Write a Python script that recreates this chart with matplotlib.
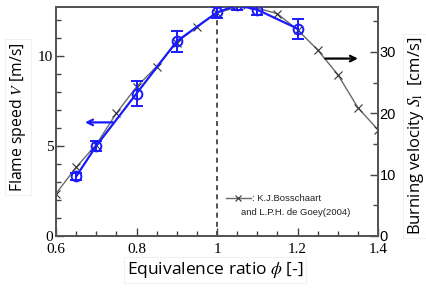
import matplotlib
matplotlib.use("Agg")
import matplotlib.pyplot as plt
from matplotlib.ticker import MultipleLocator, FixedLocator

plt.rcParams['mathtext.fontset'] = 'stix'

# flame speed V (this work), m/s
phi_exp = [0.65, 0.7, 0.8, 0.9, 1.0, 1.05, 1.1, 1.2]
v_exp = [3.3, 5.0, 7.9, 10.8, 12.4, 12.8, 12.55, 11.5]
v_err = [0.22, 0.28, 0.67, 0.58, 0.3, 0.25, 0.28, 0.56]

# burning velocity S_l, K.J.Bosschaart and L.P.H. de Goey (2004), cm/s
phi_ref = [0.6, 0.65, 0.7, 0.75, 0.8, 0.85, 0.9, 0.95, 1.0, 1.075,
           1.15, 1.2, 1.25, 1.3, 1.35, 1.4]
sl_ref = [6.9, 11.2, 14.9, 20.0, 24.3, 27.6, 31.5, 34.1, 36.4, 37.6,
          36.2, 33.6, 30.3, 26.3, 20.9, 17.3]

x_ticks = [0.6, 0.8, 1.0, 1.2, 1.4]
x_ticklabels = ['0.6', '0.8', '1', '1.2', '1.4']

fig = plt.figure(figsize=(4.26, 2.88), dpi=100)
ax = fig.add_axes([0.1315, 0.1806, 0.7559, 0.7951])
ax2 = ax.twinx()

# reference data on right axis
ax2.plot(phi_ref, sl_ref, color='#6a6a6a', lw=1.0, marker='x', ms=6,
         mec='#333333', mew=0.8, zorder=2)
ax2.set_ylim(0, 37.3)

# experiment on left axis, drawn above
ax.set_zorder(ax2.get_zorder() + 1)
ax.patch.set_visible(False)
ax.errorbar(phi_exp, v_exp, yerr=v_err, color='#1a1aff', lw=1.6, marker='o',
            ms=7, mfc='none', mec='#1a1aff', mew=1.4, capsize=4, capthick=1.4,
            elinewidth=1.4, zorder=3)
ax.plot([1.0, 1.0], [0, 12.2], color='#333333', lw=1.2, ls=(0, (3, 2.5)), zorder=1)

ax.set_xlim(0.6, 1.4)
ax.set_ylim(0, 12.7)

# arrows
ax.annotate('', xy=(0.665, 6.3), xytext=(0.748, 6.3),
            arrowprops=dict(arrowstyle='->', color='#1a1aff', lw=1.6))
ax2.annotate('', xy=(1.357, 28.9), xytext=(1.262, 28.9),
             arrowprops=dict(arrowstyle='->', color='black', lw=1.6))

# legend-like note
ax.plot([1.022, 1.085], [2.1, 2.1], color='#6a6a6a', lw=1.0)
ax.plot([1.053], [2.1], marker='x', ms=5, color='#333333', mew=0.8)
ax.text(1.087, 2.1, ': K.J.Bosschaart', fontsize=6.8, family='Liberation Sans',
        va='center', ha='left', color='#222222')
ax.text(1.06, 1.3, 'and L.P.H. de Goey(2004)', fontsize=6.8,
        family='Liberation Sans', va='center', ha='left', color='#222222')

# ticks
ax.set_xticks(x_ticks)
ax.set_xticklabels(x_ticklabels)
ax.xaxis.set_minor_locator(MultipleLocator(0.05))
ax.yaxis.set_major_locator(FixedLocator([0, 5, 10]))
ax.yaxis.set_minor_locator(MultipleLocator(1))
ax2.yaxis.set_major_locator(FixedLocator([0, 10, 20, 30]))
ax2.yaxis.set_minor_locator(MultipleLocator(5))

for a in (ax, ax2):
    a.tick_params(which='major', direction='in', length=6, width=1.0, color='#444444')
    a.tick_params(which='minor', direction='in', length=3.5, width=1.0, color='#444444')
    for s in a.spines.values():
        s.set_color('#555555')
        s.set_linewidth(1.4)

for lab in ax.get_xticklabels() + ax.get_yticklabels():
    lab.set_family('Liberation Serif')
    lab.set_fontsize(11)
for lab in ax2.get_yticklabels():
    lab.set_family('Liberation Sans')
    lab.set_fontsize(10.5)
ax.tick_params(axis='x', pad=5)
ax.tick_params(axis='y', pad=2)
ax2.tick_params(axis='y', pad=1)

box = dict(facecolor='white', edgecolor='#eeeeee', lw=0.6, pad=2)
fig.text(0.505, 0.062, r'Equivalence ratio $\phi$ [-]', ha='center', va='center',
         fontsize=12.5, family='Open Sans', bbox=box)
fig.text(0.042, 0.594, r'Flame speed $V$ [m/s]', ha='center', va='center',
         rotation=90, fontsize=11.3, family='Open Sans', bbox=box)
fig.text(0.976, 0.528, r'Burning velocity $S_{\rm l}$  [cm/s]', ha='center', va='center',
         rotation=90, fontsize=12, family='Open Sans', bbox=box)

fig.savefig('out.png', dpi=100)
